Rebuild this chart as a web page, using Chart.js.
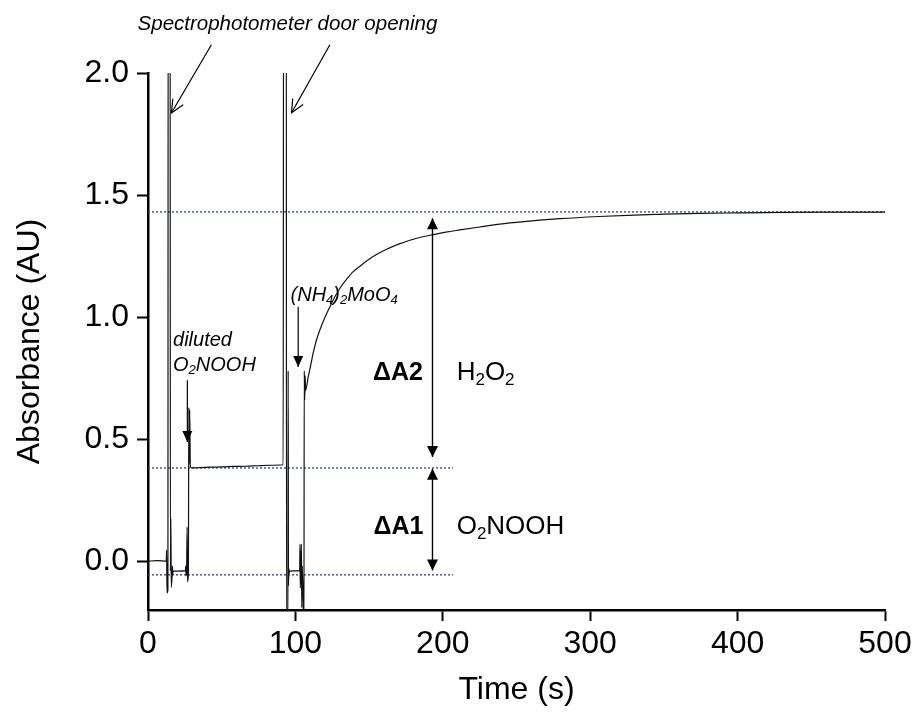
<!DOCTYPE html>
<html>
<head>
<meta charset="utf-8">
<script src="https://cdn.jsdelivr.net/npm/chart.js@4.4.0/dist/chart.umd.min.js"></script>
<style>
  html, body { margin: 0; padding: 0; background: #fff; }
  canvas { display: block; }
</style>
</head>
<body>
<canvas id="chart" width="916" height="718"></canvas>
<script>
// absorbance trace
const timeS = [
  0, 6, 12.4, 12.6, 12.9, 13.5, 13.7, 15.0, 15.2, 15.5, 15.8, 16.5, 16.6, 16.8, 17.0, 21, 25.4, 25.6, 25.8, 26.2,
  26.5, 26.8, 27.4, 27.7, 28.0, 28.3, 28.7, 29.4, 35, 42, 50, 58, 66, 74, 82, 91.7,
  92.0, 93.8, 94.0, 94.9, 95.1, 95.3, 95.6, 95.8, 96.0, 99.5, 102.9, 103.1, 103.3, 103.6, 104.1, 104.3, 104.7,
  105.8, 106.0, 106.3, 106.6, 106.9, 108.7, 110.3, 112.0, 114.0, 116.6, 120, 123.4, 126.5, 130.2, 134.5, 139.2,
  143.8, 148.3, 155, 161.9, 170, 177.7, 185, 193.5, 202, 211.6, 225, 238.8, 255, 279.5, 306, 330, 347, 374, 400,
  430, 460, 500
];
const absorbance = [
  0.0, 0.002, 0.0, 0.045, -0.13, -0.12, 2.6, 2.6, -0.04, 0.175, -0.107, -0.04, -0.02, -0.055, -0.04, -0.041, -0.039, -0.02, -0.06, -0.04,
  0.14, -0.085, -0.05, 0.63, 0.40, 0.62, 0.39, 0.382, 0.383, 0.385, 0.386, 0.388, 0.389, 0.391, 0.393, 0.395,
  2.6, 2.6, -0.3, -0.3, 0.78, -0.1, -0.03, -0.05, -0.041, -0.04, -0.04, 0.07, -0.11, -0.04, 0.07, -0.19, -0.02,
  -0.3, 0.78, 0.66, 0.76, 0.70, 0.755, 0.80, 0.851, 0.90, 0.947, 0.998, 1.042, 1.08, 1.118, 1.153, 1.186,
  1.208, 1.230, 1.256, 1.278, 1.299, 1.315, 1.327, 1.338, 1.348, 1.357, 1.369, 1.381, 1.391, 1.403, 1.412, 1.418, 1.421, 1.425, 1.427,
  1.429, 1.430, 1.430
];
// dotted reference levels and where they stop
const refLevels = [1.431, 0.382, -0.056];
const refEnds = [500, 207, 207];
const xTicks = [0, 100, 200, 300, 400, 500];
const yTicks = [0, 0.5, 1.0, 1.5, 2.0];

const FONT = '"Liberation Sans", Arial, sans-serif';

function drawRich(ctx, x, y, runs, size, weight, style) {
  ctx.textAlign = 'left';
  ctx.textBaseline = 'middle';
  let cx = x;
  runs.forEach(([txt, sub]) => {
    const s = sub ? Math.round(size * 0.66) : size;
    ctx.font = `${style || 'normal'} ${weight || 'normal'} ${s}px ${FONT}`;
    ctx.fillText(txt, cx, sub ? y + size * 0.28 : y);
    cx += ctx.measureText(txt).width;
  });
}

function arrowHead(ctx, x1, y1, x2, y2, len, half, open) {
  const a = Math.atan2(y2 - y1, x2 - x1);
  const bx = x2 - len * Math.cos(a), by = y2 - len * Math.sin(a);
  const nx = -Math.sin(a) * half, ny = Math.cos(a) * half;
  ctx.beginPath();
  ctx.moveTo(bx + nx, by + ny);
  ctx.lineTo(x2, y2);
  ctx.lineTo(bx - nx, by - ny);
  if (open) { ctx.stroke(); } else { ctx.closePath(); ctx.fill(); }
}

function arrow(ctx, x1, y1, x2, y2, opts) {
  ctx.beginPath();
  ctx.moveTo(x1, y1);
  ctx.lineTo(x2, y2);
  ctx.stroke();
  arrowHead(ctx, x1, y1, x2, y2, opts.len, opts.half, opts.open);
  if (opts.both) arrowHead(ctx, x2, y2, x1, y1, opts.len, opts.half, opts.open);
}

const annotate = {
  id: 'annotate',
  afterDatasetsDraw(chart) {
    const { ctx, scales: { x, y } } = chart;
    const px = v => x.getPixelForValue(v);
    const py = v => y.getPixelForValue(v);
    ctx.save();
    ctx.fillStyle = '#000';
    ctx.strokeStyle = '#000';
    ctx.lineWidth = 1.2;

    // door opening
    ctx.font = `italic 20.5px ${FONT}`;
    ctx.textAlign = 'center';
    ctx.textBaseline = 'middle';
    ctx.fillText('Spectrophotometer door opening', px(94.6), py(2.20));
    arrow(ctx, px(43.0), py(2.116), px(15.9), py(1.836), { len: 13, half: 6, open: true });
    arrow(ctx, px(123.4), py(2.116), px(97.4), py(1.837), { len: 13, half: 6, open: true });

    // additions
    drawRich(ctx, px(17.0), py(0.906), [['diluted']], 20, 'normal', 'italic');
    drawRich(ctx, px(17.0), py(0.803), [['O'], ['2', 1], ['NOOH']], 20, 'normal', 'italic');
    arrow(ctx, px(26.7), py(0.741), px(26.7), py(0.488), { len: 11, half: 5 });
    drawRich(ctx, px(96.7), py(1.09), [['(NH'], ['4', 1], [')'], ['2', 1], ['MoO'], ['4', 1]], 20, 'normal', 'italic');
    arrow(ctx, px(101.9), py(1.042), px(101.9), py(0.796), { len: 11, half: 5 });

    // delta arrows
    ctx.lineWidth = 1.4;
    arrow(ctx, px(193), py(1.405), px(193), py(0.427), { len: 11, half: 5.5, both: true });
    arrow(ctx, px(193), py(0.379), px(193), py(-0.038), { len: 11, half: 5.5, both: true });
    drawRich(ctx, px(152.6), py(0.77), [['\u0394A2']], 25, 'bold');
    drawRich(ctx, px(209.4), py(0.77), [['H'], ['2', 1], ['O'], ['2', 1]], 26);
    drawRich(ctx, px(153), py(0.14), [['\u0394A1']], 25, 'bold');
    drawRich(ctx, px(209.4), py(0.14), [['O'], ['2', 1], ['NOOH']], 26);
    ctx.restore();
  }
};

const trace = timeS.map((t, i) => ({ x: t, y: absorbance[i] }));
const refSets = refLevels.map((lv, i) => ({
  data: [{ x: 0, y: lv }, { x: refEnds[i], y: lv }],
  borderColor: '#2b3f8a',
  borderWidth: 1.3,
  borderDash: [2, 2],
  pointRadius: 0
}));

const axisFont = { family: FONT, size: 32 };

new Chart(document.getElementById('chart'), {
  type: 'line',
  data: {
    datasets: [{
      data: trace,
      borderColor: '#111',
      borderWidth: 1.2,
      pointRadius: 0,
      cubicInterpolationMode: 'monotone'
    }, ...refSets]
  },
  options: {
    responsive: false,
    animation: false,
    layout: { padding: { top: 73, right: 31, left: 0, bottom: 0 } },
    plugins: { legend: { display: false }, tooltip: { enabled: false } },
    scales: {
      x: {
        type: 'linear',
        min: 0,
        max: 500,
        afterBuildTicks: s => { s.ticks = xTicks.map(v => ({ value: v })); },
        afterFit: s => { s.height = 108; },
        ticks: { font: axisFont, color: '#000', padding: 4, maxRotation: 0 },
        grid: { drawOnChartArea: false, tickLength: 11, tickWidth: 2, tickColor: '#000' },
        border: { display: true, color: '#000', width: 2.5 },
        title: { display: true, text: 'Time (s)', font: axisFont, color: '#000', padding: { top: 0, bottom: 9 } }
      },
      y: {
        min: -0.2,
        max: 2.0,
        afterBuildTicks: s => { s.ticks = yTicks.map(v => ({ value: v })); },
        afterFit: s => { s.width = 148; },
        ticks: { font: axisFont, color: '#000', padding: 8, callback: v => v.toFixed(1) },
        grid: { drawOnChartArea: false, tickLength: 11, tickWidth: 2, tickColor: '#000' },
        border: { display: true, color: '#000', width: 2.5 },
        title: { display: true, text: 'Absorbance (AU)', font: axisFont, color: '#000', padding: { top: 11, bottom: 0 } }
      }
    }
  },
  plugins: [annotate]
});
</script>
</body>
</html>
